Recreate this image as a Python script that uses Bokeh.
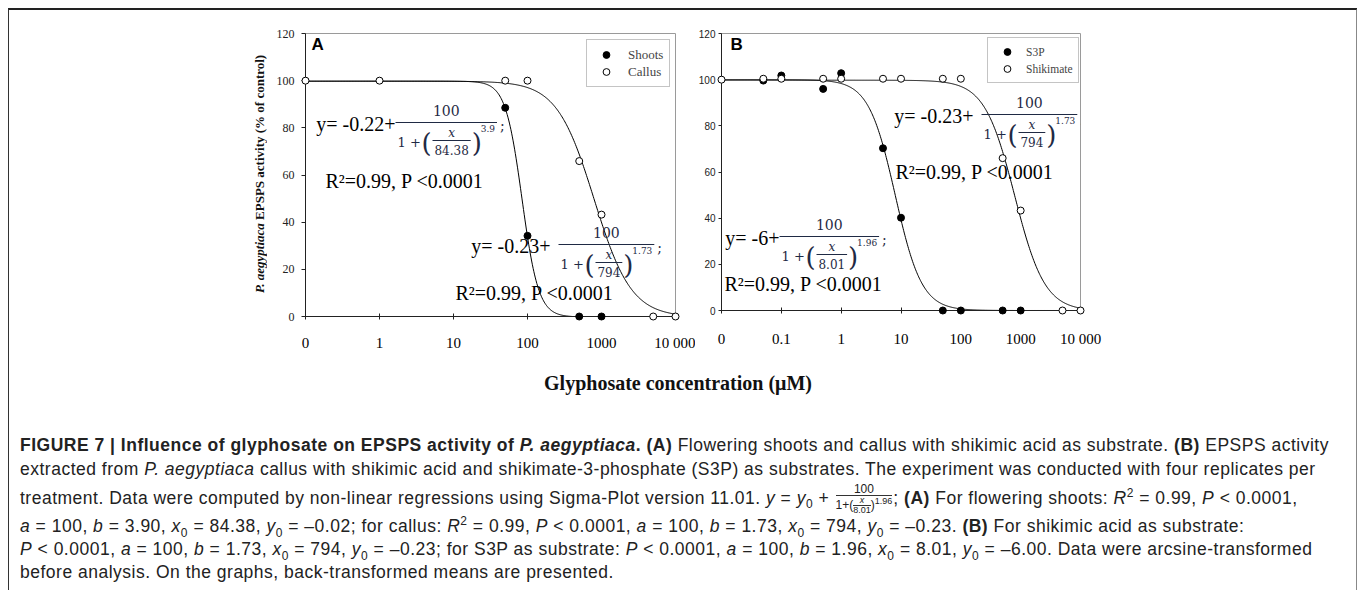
import numpy as np
from bokeh.plotting import figure
from bokeh.models import (Range1d, FixedTicker, CustomJSTickFormatter, Label,
                          Legend, LegendItem, Div)
from bokeh.layouts import row, column
from bokeh.embed import file_html
from bokeh.resources import INLINE

# ------------------------------------------------------------------ data
A_tick_values = [0, 1, 10, 100, 1000, 10000]
A_tick_labels = ["0", "1", "10", "100", "1000", "10 000"]
B_tick_values = [0, 0.1, 1, 10, 100, 1000, 10000]
B_tick_labels = ["0", "0.1", "1", "10", "100", "1000", "10 000"]
y_tick_values = [0, 20, 40, 60, 80, 100, 120]

A_shoots_conc = [50, 100, 500, 1000]
A_shoots_act = [88.5, 34.2, 0, 0]
A_callus_conc = [0, 1, 50, 100, 500, 1000, 5000, 10000]
A_callus_act = [100, 100, 100, 100, 65.9, 43.2, 0, 0]

B_s3p_conc = [0.05, 0.1, 0.5, 1, 5, 10, 50, 100, 500, 1000]
B_s3p_act = [99.6, 101.8, 96.0, 102.8, 70.3, 40.2, 0, 0, 0, 0]
B_shik_conc = [0, 0.05, 0.1, 0.5, 1, 5, 10, 50, 100, 500, 1000, 5000, 10000]
B_shik_act = [100, 100.4, 100.4, 100.4, 100.4, 100.4, 100.4, 100.4, 100.4, 66.0, 43.3, 0, 0]

# fitted logistic curves printed on the chart: y = y0 + a / (1 + (x/x0)^b)
A_fit_y0 = [-0.22, -0.23]          # shoots, callus
A_fit_a = [100, 100]
A_fit_x0 = [84.38, 794]
A_fit_b = [3.9, 1.73]
B_fit_y0_text = ["-6", "-0.23"]    # S3P, shikimate (as printed)
B_fit_y0_drawn = [0.0, -0.23]      # drawn back-transformed curves level at 100 / 0
B_fit_a = [100, 100]
B_fit_x0 = [8.01, 794]
B_fit_b = [1.96, 1.73]

A_series = ["Shoots", "Callus"]
B_series = ["S3P", "Shikimate"]
y_title_italic = "P. aegyptiaca"
y_title_rest = "EPSPS activity (% of control)"
x_title = "Glyphosate concentration (\u03bcM)"

# ------------------------------------------------------------------ helpers
SERIF = "Liberation Serif"
SANS = "Liberation Sans"
MATH = "DejaVu Serif"
EQ_COL = "#1f2a44"


def as_pos(conc, origin):
    return [origin if c == 0 else c for c in conc]


def logistic(x, y0, a, x0, b):
    return y0 + a / (1.0 + (x / x0) ** b)


def tick_formatter(values, labels, origin):
    pos = as_pos(values, origin)
    return CustomJSTickFormatter(args=dict(tvals=pos, tlabels=labels), code="""
        for (let i = 0; i < tvals.length; i++) {
            if (Math.abs(Math.log10(tvals[i]) - Math.log10(tick)) < 1e-6) return tlabels[i];
        }
        return '';
    """)


def make_conv(left, top, right, bottom, lx0, lx1, y0, y1):
    def conv(px, py):
        x = 10 ** (lx0 + (px - left) / (right - left) * (lx1 - lx0))
        y = y0 + (bottom - py) / (bottom - top) * (y1 - y0)
        return x, y
    return conv


def lab(p, conv, px, py, text, font, size, align="left", baseline="middle",
        style="normal", color="black", angle=0.0):
    x, y = conv(px, py)
    p.add_layout(Label(x=x, y=y, text=text, text_font=font,
                       text_font_size=f"{size}px", text_align=align,
                       text_baseline=baseline, text_font_style=style,
                       text_color=color, angle=angle))


def hbar(p, conv, px0, px1, py, color=EQ_COL):
    x0, y = conv(px0, py)
    x1, _ = conv(px1, py)
    p.segment(x0=[x0], y0=[y], x1=[x1], y1=[y], line_color=color,
              line_width=1, level="overlay")


def twidth(s, digit, dot):
    return sum(digit if ch.isdigit() else dot for ch in s)


def equation(p, conv, L, Y, prefix, gap, x0txt, btxt):
    lab(p, conv, L - gap, Y + 1, prefix, SERIF, 20, align="right")
    w_in = twidth(x0txt, 7.6, 3.8) + 4
    fx = L + 37
    fe = fx + w_in
    ex = fe + 10
    be = ex + twidth(btxt, 5.7, 2.9) + 2
    hbar(p, conv, L, be, Y)
    hbar(p, conv, fx, fe, Y + 18)
    lab(p, conv, (L + be) / 2, Y - 12, "100", MATH, 14, align="center", color=EQ_COL)
    lab(p, conv, L + 2, Y + 20, "1 +", MATH, 13, color=EQ_COL)
    lab(p, conv, L + 26, Y + 20, "(", MATH, 26, color=EQ_COL)
    lab(p, conv, (fx + fe) / 2, Y + 10, "x", MATH, 12, align="center",
        style="italic", color=EQ_COL)
    lab(p, conv, (fx + fe) / 2, Y + 27, x0txt, MATH, 12, align="center", color=EQ_COL)
    lab(p, conv, fe + 1, Y + 20, ")", MATH, 26, color=EQ_COL)
    lab(p, conv, ex, Y + 6, btxt, MATH, 9, color=EQ_COL)
    lab(p, conv, be + 3, Y + 3, ";", MATH, 14, color=EQ_COL)


def style_axes(p, xvals, xlabels, origin, x_standoff, yfont, ysize, yout, ystandoff):
    xa = p.xaxis[0]
    xa.ticker = FixedTicker(ticks=as_pos(xvals, origin), num_minor_ticks=0)
    xa.formatter = tick_formatter(xvals, xlabels, origin)
    xa.major_label_text_font = SERIF
    xa.major_label_text_font_size = "15px"
    xa.major_label_text_color = "black"
    xa.major_tick_in = 3
    xa.major_tick_out = 3
    xa.minor_tick_line_color = None
    xa.major_label_standoff = x_standoff
    xa.axis_line_color = "#222222"
    xa.major_tick_line_color = "#222222"
    ya = p.yaxis[0]
    ya.ticker = FixedTicker(ticks=y_tick_values)
    ya.major_label_text_font = yfont
    ya.major_label_text_font_size = f"{ysize}px"
    ya.major_label_text_color = "#222222"
    ya.major_tick_in = 0
    ya.major_tick_out = yout
    ya.minor_tick_line_color = None
    ya.major_label_standoff = ystandoff
    ya.axis_line_color = "#222222"
    ya.major_tick_line_color = "#222222"
    p.xgrid.grid_line_color = None
    p.ygrid.grid_line_color = None


# ------------------------------------------------------------------ y title strip (HTML)
ytitle = Div(text=(
    "<div style=\"position:relative;width:264px;height:350px;\">"
    "<div style=\"position:absolute;left:243px;top:40px;width:16px;height:247px;"
    "writing-mode:vertical-rl;transform:rotate(180deg);text-align:center;"
    "font-family:'Liberation Serif';font-weight:bold;font-size:13px;line-height:16px;"
    f"color:#111;white-space:nowrap;\"><i>{y_title_italic}</i> {y_title_rest}</div></div>"),
    width=264, height=350, margin=0)

# ------------------------------------------------------------------ panel A
A_origin = 0.1
pA = figure(x_axis_type="log", x_range=Range1d(A_origin, 10000), y_range=Range1d(0, 120),
            frame_width=370, frame_height=283, min_border_left=30, min_border_right=20,
            min_border_top=23, min_border_bottom=44, output_backend="svg",
            toolbar_location=None, outline_line_color="#9a9a9a")
style_axes(pA, A_tick_values, A_tick_labels, A_origin, 15, SERIF, 12, 4, 7)

xsA = np.logspace(-1, 4, 500)
for i in range(2):
    pA.line(xsA, logistic(xsA, A_fit_y0[i], A_fit_a[i], A_fit_x0[i], A_fit_b[i]),
            line_color="black", line_width=1)
rA_sh = pA.scatter(as_pos(A_shoots_conc, A_origin), A_shoots_act, size=7,
                   fill_color="black", line_color="black", level="overlay")
rA_ca = pA.scatter(as_pos(A_callus_conc, A_origin), A_callus_act, size=7,
                   fill_color="white", line_color="black", line_width=1, level="overlay")

legA = Legend(items=[LegendItem(label=A_series[0], renderers=[rA_sh]),
                     LegendItem(label=A_series[1], renderers=[rA_ca])],
              location=(281, 229), margin=0, padding=6, spacing=0,
              glyph_width=26, glyph_height=17, label_height=17, label_standoff=9,
              label_text_font=SERIF, label_text_font_size="13px",
              border_line_color="#8a8a8a", border_line_width=1,
              background_fill_color="white")
pA.add_layout(legA)

convA = make_conv(303, 33, 673, 316, -1, 4, 0, 120)
lab(pA, convA, 309, 44, "A", SANS, 17, style="bold")
equation(pA, convA, 393, 122, "y= -0.22+", 0, "84.38", "3.9")
lab(pA, convA, 323, 180, "R²=0.99, P <0.0001", SERIF, 20)
equation(pA, convA, 556, 244, "y= -0.23+", 8, "794", "1.73")
lab(pA, convA, 453, 292, "R²=0.99, P <0.0001", SERIF, 20)

# ------------------------------------------------------------------ panel B
B_origin = 0.01
pB = figure(x_axis_type="log", x_range=Range1d(B_origin, 10000), y_range=Range1d(0, 120),
            frame_width=359, frame_height=277, min_border_left=25, min_border_right=276,
            min_border_top=23, min_border_bottom=50, output_backend="svg",
            toolbar_location=None, outline_line_color="#9a9a9a")
style_axes(pB, B_tick_values, B_tick_labels, B_origin, 17, SANS, 10, 3, 3)

xsB = np.logspace(-2, 4, 600)
for i in range(2):
    yB = logistic(xsB, B_fit_y0_drawn[i], B_fit_a[i], B_fit_x0[i], B_fit_b[i])
    pB.line(xsB, np.clip(yB, 0, None), line_color="black", line_width=1)
rB_s3p = pB.scatter(as_pos(B_s3p_conc, B_origin), B_s3p_act, size=7,
                    fill_color="black", line_color="black", level="overlay")
rB_shik = pB.scatter(as_pos(B_shik_conc, B_origin), B_shik_act, size=7,
                     fill_color="white", line_color="black", line_width=1, level="overlay")

legB = Legend(items=[LegendItem(label=B_series[0], renderers=[rB_s3p]),
                     LegendItem(label=B_series[1], renderers=[rB_shik])],
              location=(266, 227), margin=0, padding=5, spacing=0,
              glyph_width=28, glyph_height=17, label_height=17, label_standoff=5,
              label_text_font=SERIF, label_text_font_size="11.5px",
              border_line_color="#8a8a8a", border_line_width=1,
              background_fill_color="white")
pB.add_layout(legB)

convB = make_conv(718, 33, 1077, 310, -2, 4, 0, 120)
lab(pB, convB, 727, 44, "B", SANS, 17, style="bold")
equation(pB, convB, 978, 114, "y= -0.23+", 8, "794", "1.73")
lab(pB, convB, 892, 171, "R²=0.99, P <0.0001", SERIF, 20)
equation(pB, convB, 776, 236, "y= " + B_fit_y0_text[0] + "+", 0, "8.01", "1.96")
lab(pB, convB, 721, 283, "R²=0.99, P <0.0001", SERIF, 20)

# ------------------------------------------------------------------ texts
W = 1344
title = Div(text=("<div style=\"width:1324px;padding-left:14px;text-align:center;"
                  "font-family:'Liberation Serif';font-weight:bold;font-size:20px;"
                  f"line-height:46px;color:#111;\">{x_title}</div>"),
            width=W, height=46, margin=0)

FRAC = ("<span style=\"display:inline-block;vertical-align:middle;text-align:center;"
        "font-size:12px;line-height:12px;margin:0 1px;letter-spacing:0;\">"
        "<span style=\"display:block;border-bottom:1px solid #333;padding:0 1px;\">100</span>"
        "<span style=\"display:block;\">1+(<span style=\"display:inline-block;vertical-align:middle;"
        "font-size:9px;line-height:9px;text-align:center;\"><span style=\"display:block;"
        "border-bottom:1px solid #333;\"><i>x</i></span><span style=\"display:block;\">8.01</span>"
        "</span>)<sup style=\"font-size:9px;line-height:0;\">1.96</sup></span></span>")
SUB0 = "<sub style=\"font-size:12px;line-height:0;\">0</sub>"
SUP2 = "<sup style=\"font-size:12px;line-height:0;\">2</sup>"

cap_lines = [
    "<b>FIGURE 7 | Influence of glyphosate on EPSPS activity of <i>P. aegyptiaca</i>. (A)</b> "
    "Flowering shoots and callus with shikimic acid as substrate. <b>(B)</b> EPSPS activity",
    "extracted from <i>P. aegyptiaca</i> callus with shikimic acid and shikimate-3-phosphate (S3P) "
    "as substrates. The experiment was conducted with four replicates per",
    "treatment. Data were computed by non-linear regressions using Sigma-Plot version 11.01. "
    f"<i>y</i> = <i>y</i>{SUB0} + {FRAC}; <b>(A)</b> For flowering shoots: <i>R</i>{SUP2} = 0.99, "
    "<i>P</i> &lt; 0.0001,",
    f"<i>a</i> = 100, <i>b</i> = 3.90, <i>x</i>{SUB0} = 84.38, <i>y</i>{SUB0} = \u20130.02; for callus: "
    f"<i>R</i>{SUP2} = 0.99, <i>P</i> &lt; 0.0001, <i>a</i> = 100, <i>b</i> = 1.73, <i>x</i>{SUB0} = 794, "
    f"<i>y</i>{SUB0} = \u20130.23. <b>(B)</b> For shikimic acid as substrate:",
    f"<i>P</i> &lt; 0.0001, <i>a</i> = 100, <i>b</i> = 1.73, <i>x</i>{SUB0} = 794, <i>y</i>{SUB0} = \u20130.23; "
    f"for S3P as substrate: <i>P</i> &lt; 0.0001, <i>a</i> = 100, <i>b</i> = 1.96, <i>x</i>{SUB0} = 8.01, "
    f"<i>y</i>{SUB0} = \u20136.00. Data were arcsine-transformed",
    "before analysis. On the graphs, back-transformed means are presented.",
]
cap_tops = [28, 52, 77, 109, 132, 155]
CAP_H = 184
cap_html = f"<div style=\"position:relative;width:{W}px;height:{CAP_H}px;\">"
for t, line in zip(cap_tops, cap_lines):
    cap_html += (f"<div style=\"position:absolute;left:11px;top:{t}px;white-space:nowrap;"
                 "font-family:'Liberation Sans';font-size:17.5px;letter-spacing:0.5px;"
                 "line-height:23px;color:#222;\">"
                 f"{line}</div>")
cap_html += "</div>"
caption = Div(text=cap_html, width=W, height=CAP_H, margin=0)

layout = column(row(ytitle, pA, pB, spacing=0), title, caption, spacing=0,
                styles={"margin-left": "8px", "margin-top": "8px",
                        "border-top": "2px solid #222", "border-left": "1px solid #333",
                        "border-right": "2px solid #888"})

open("out.html", "w").write(file_html(layout, INLINE))
